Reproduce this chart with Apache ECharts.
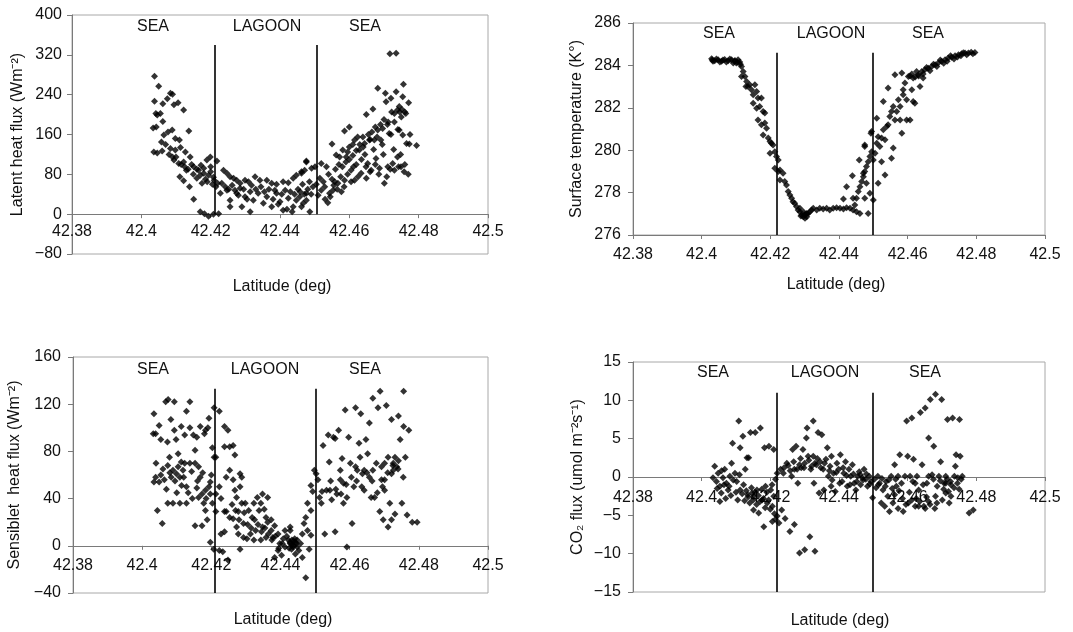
<!DOCTYPE html>
<html><head><meta charset="utf-8">
<script src="https://cdn.jsdelivr.net/npm/echarts@6/dist/echarts.min.js"></script>
<style>html,body{margin:0;padding:0;background:#fff}#c{width:1073px;height:632px}</style>
</head><body><div id="c"></div>
<script>
// ---------- DATA ----------
const latTicks = [42.38, 42.4, 42.42, 42.44, 42.46, 42.48, 42.5];
const regionLabels = ['SEA', 'LAGOON', 'SEA'];
const xTitle = 'Latitude (deg)';
const yTitles = ['Latent heat flux (Wm\u207B\u00B2)', 'Surface temperature (K\u00B0)', 'Sensiblet  heat flux (Wm\u207B\u00B2)', 'CO\u2082 flux (umol m\u207B\u00B2s\u207B\u00B9)'];

// boundaries between sea and lagoon (latitude), with vertical extent [top, bottom] in data units
const latentBounds = [42.4212, 42.4505];
const latentBoundY = [340, 0];
const tempBounds = [42.4220, 42.4498];
const tempBoundY = [284.6, 276];
const sensibleBounds = [42.4210, 42.4503];
const sensibleBoundY = [133, -40];
const co2Bounds = [42.4218, 42.4497];
const co2BoundY = [11, -15];

const latentHeat = [
[42.4038,277],[42.4050,257],[42.4038,227],[42.4062,222],[42.4075,232],[42.4084,243],[42.4090,241],[42.4094,220],[42.4106,224],[42.4122,209],
[42.4042,202],[42.4046,199],[42.4055,202],[42.4034,173],[42.4043,175],[42.4062,186],[42.4065,159],[42.4077,165],[42.4089,169],[42.4098,152],[42.4110,149],[42.4137,167],
[42.4036,125],[42.4046,123],[42.4060,127],[42.4084,132],[42.4098,129],[42.4113,134],[42.4127,125],[42.4141,115],[42.4094,109],[42.4108,102],[42.4122,105],
[42.4151,95],[42.4165,88],[42.4180,82],[42.4194,78],[42.4208,74],[42.4111,75],[42.4122,67],[42.4139,55],[42.4151,30],
[42.4170,5],[42.4182,1],[42.4194,-4],[42.4208,0],[42.4223,1],[42.4189,109],[42.4199,115],[42.4218,107],
[42.4160,90],[42.4172,98],[42.4185,70],[42.4200,85],[42.4205,60],[42.4215,55],[42.4175,62],[42.4160,72],[42.4130,88],[42.4145,100],[42.4200,95],
[42.4100,115],[42.4115,100],[42.4125,95],[42.4135,90],[42.4150,80],[42.4170,78],[42.4180,92],[42.4190,65],[42.4210,68],[42.4220,62],[42.4070,140],[42.4080,120],[42.4058,145],[42.4090,115],
[42.4237,88],[42.4247,82],[42.4256,75],[42.4266,72],[42.4275,68],[42.4285,62],[42.4299,68],[42.4309,65],[42.4328,75],[42.4342,68],[42.4362,68],[42.4376,62],[42.4390,60],[42.4409,65],[42.4424,63],[42.4438,72],[42.4447,78],[42.4462,85],[42.4471,88],[42.4476,105],
[42.4228,42],[42.4247,48],[42.4256,28],[42.4275,42],[42.4285,52],[42.4299,35],[42.4314,45],[42.4323,28],[42.4337,42],[42.4352,22],[42.4362,35],[42.4376,15],[42.4390,42],[42.4400,25],[42.4409,8],[42.4424,32],[42.4438,15],[42.4447,28],[42.4462,15],[42.4476,28],[42.4256,15],[42.4314,5],[42.4290,15],
[42.4232,62],[42.4242,55],[42.4252,50],[42.4262,58],[42.4270,48],[42.4280,38],[42.4295,50],[42.4305,30],[42.4318,58],[42.4330,50],[42.4345,55],[42.4355,45],[42.4368,50],[42.4380,30],[42.4385,48],[42.4395,20],[42.4405,40],[42.4415,48],[42.4420,10],[42.4430,45],[42.4435,5],[42.4442,40],[42.4452,50],[42.4458,45],[42.4465,60],[42.4470,40],[42.4480,50],[42.4485,65],[42.4490,40],[42.4495,55],
[42.4457,35],[42.4467,22],[42.4476,42],[42.4486,5],[42.4462,82],[42.4476,107],[42.4491,92],[42.4501,95],[42.4510,38],[42.4519,48],[42.4529,55],[42.4519,102],[42.4534,95],[42.4538,23],[42.4543,42],[42.4553,48],
[42.4550,141],[42.4562,119],[42.4558,65],[42.4567,62],[42.4577,45],[42.4572,115],[42.4581,129],[42.4586,68],[42.4586,167],[42.4600,175],[42.4591,115],[42.4600,135],[42.4605,88],[42.4615,68],[42.4615,149],[42.4624,155],
[42.4629,129],[42.4634,82],[42.4639,155],[42.4644,142],[42.4649,72],[42.4649,200],[42.4658,149],[42.4653,102],[42.4663,88],[42.4668,211],[42.4672,149],[42.4677,112],[42.4682,253],[42.4682,169],[42.4687,92],[42.4691,149],
[42.4696,172],[42.4701,62],[42.4704,243],[42.4706,226],[42.4711,95],[42.4715,162],[42.4717,322],[42.4720,233],[42.4725,102],[42.4730,202],[42.4730,88],[42.4735,323],[42.4735,246],[42.4739,209],[42.4739,115],[42.4744,169],
[42.4744,216],[42.4749,95],[42.4754,159],[42.4756,261],[42.4758,85],[42.4763,202],[42.4765,142],[42.4771,224],[42.4773,141],[42.4794,138],[42.4754,236],
[42.4595,125],[42.4610,140],[42.4620,128],[42.4640,135],[42.4655,160],[42.4665,165],[42.4675,175],[42.4690,180],[42.4700,190],[42.4712,185],[42.4722,205],[42.4745,205],[42.4752,210],[42.4760,205],
[42.4505,60],[42.4515,72],[42.4525,65],[42.4540,80],[42.4550,70],[42.4560,90],[42.4570,100],[42.4580,95],[42.4590,105],[42.4600,110],[42.4610,118],[42.4620,100],[42.4630,140],[42.4645,120],[42.4660,150],[42.4670,130],
[42.4680,155],[42.4695,140],[42.4710,180],[42.4720,160],[42.4730,185],[42.4740,170],[42.4750,195],
[42.4530,30],[42.4545,35],[42.4555,58],[42.4565,50],[42.4575,75],[42.4585,55],[42.4595,80],[42.4605,65],[42.4612,95],[42.4625,75],[42.4635,110],[42.4648,95],
[42.4660,85],[42.4675,100],[42.4685,80],[42.4698,120],[42.4708,75],[42.4718,90],[42.4728,130],[42.4742,95],[42.4748,120],[42.4760,100],[42.4770,80],[42.4775,160]
];

const surfaceTemp = [
[42.4029,284.31],[42.4038,284.22],[42.4048,284.27],[42.4058,284.19],[42.4067,284.28],[42.4077,284.22],[42.4087,284.27],[42.4096,284.19],[42.4106,284.27],[42.4111,284.16],
[42.4033,284.19],[42.4053,284.16],[42.4072,284.16],[42.4092,284.11],[42.4101,284.11],[42.4031,284.25],[42.4043,284.30],[42.4062,284.25],[42.4082,284.30],[42.4097,284.23],[42.4104,284.15],[42.4113,284.05],
[42.4116,283.95],[42.4121,283.71],[42.4126,283.48],[42.4116,283.48],[42.4131,283.24],[42.4135,283.00],[42.4129,283.00],[42.4140,283.09],[42.4145,282.85],[42.4150,282.61],[42.4155,283.09],[42.4160,282.77],
[42.4150,282.22],[42.4164,282.46],[42.4169,282.06],[42.4174,282.46],[42.4160,281.98],[42.4179,281.82],[42.4184,281.75],[42.4164,281.43],[42.4174,281.20],[42.4184,281.28],[42.4189,281.04],[42.4179,280.72],
[42.4194,280.57],[42.4199,280.41],[42.4203,280.33],[42.4208,280.25],[42.4199,279.86],[42.4213,279.93],[42.4218,279.70],[42.4223,279.54],[42.4213,279.15],[42.4223,278.99],[42.4228,279.07],[42.4237,278.91],
[42.4228,278.60],[42.4242,278.52],[42.4247,278.36],[42.4252,278.05],[42.4257,277.89],[42.4262,277.73],[42.4266,277.57],[42.4271,277.50],[42.4276,277.34],[42.4281,277.18],[42.4286,277.10],[42.4291,276.94],
[42.4296,276.86],[42.4301,276.79],[42.4306,276.86],[42.4310,277.02],[42.4315,277.10],[42.4320,277.18],[42.4286,277.26],[42.4296,277.10],[42.4306,277.02],[42.4289,276.90],[42.4299,276.95],[42.4304,276.98],
[42.4325,277.26],[42.4335,277.18],[42.4344,277.26],[42.4354,277.23],[42.4364,277.26],[42.4373,277.18],[42.4383,277.26],[42.4393,277.29],[42.4403,277.26],[42.4413,277.23],[42.4422,277.29],[42.4432,277.26],
[42.4441,277.18],[42.4451,277.10],[42.4461,277.02],[42.4413,277.70],[42.4441,277.73],[42.4446,277.42],[42.4451,277.73],[42.4456,278.05],[42.4461,278.28],[42.4466,278.52],[42.4471,278.75],[42.4475,278.99],
[42.4480,279.23],[42.4485,279.46],[42.4490,279.70],[42.4495,279.93],[42.4439,278.80],[42.4422,278.28],[42.4459,279.54],[42.4475,280.25],[42.4493,280.80],[42.4485,277.02],[42.4475,277.73],[42.4500,277.65],
[42.4510,281.51],[42.4475,280.17],[42.4495,280.88],[42.4471,278.91],[42.4480,278.44],[42.4490,277.97],[42.4500,279.54],[42.4505,279.86],[42.4510,280.33],[42.4514,280.64],[42.4519,280.17],[42.4524,280.57],
[42.4529,280.96],[42.4534,280.49],[42.4514,278.44],[42.4524,279.46],[42.4534,278.83],[42.4529,282.30],[42.4539,281.12],[42.4543,281.20],[42.4543,282.93],[42.4548,281.59],[42.4553,281.82],[42.4558,280.10],
[42.4553,279.62],[42.4558,282.06],[42.4563,281.43],[42.4563,283.56],[42.4568,281.82],[42.4573,282.38],[42.4578,281.43],[42.4578,282.06],[42.4583,280.80],[42.4583,283.64],[42.4587,282.85],[42.4587,282.61],
[42.4592,283.17],[42.4597,281.43],[42.4597,282.38],[42.4602,283.48],[42.4607,281.43],[42.4612,282.85],[42.4616,282.30],[42.4621,282.22],[42.4616,283.40],[42.4631,283.56],[42.4636,283.00],[42.4626,283.71],
[42.4607,283.50],[42.4612,283.60],[42.4622,283.45],[42.4632,283.50],[42.4645,283.40],
[42.4641,283.71],[42.4650,283.79],[42.4660,283.87],[42.4670,283.95],[42.4680,284.03],[42.4689,284.11],[42.4699,284.19],[42.4709,284.27],[42.4718,284.35],[42.4728,284.39],[42.4738,284.46],[42.4748,284.50],
[42.4757,284.55],[42.4767,284.58],[42.4777,284.58],[42.4796,284.61],[42.4645,283.60],[42.4655,283.90],[42.4665,283.75],[42.4675,284.05],[42.4685,283.95],[42.4695,284.25],[42.4705,284.10],[42.4715,284.20],
[42.4725,284.45],[42.4735,284.30],[42.4745,284.40],[42.4755,284.45],[42.4762,284.60],[42.4772,284.50],[42.4785,284.62],[42.4790,284.55]
];

const sensibleHeat = [
[42.4034,112],[42.4032,95],[42.4039,95],[42.4049,102],[42.4054,90],[42.4068,122],[42.4075,124],[42.4093,122],[42.4083,107],[42.4073,88],[42.4098,90],[42.4113,101],[42.4128,114],[42.4138,122],[42.4123,94],[42.4138,100],
[42.4148,94],[42.4158,92],[42.4168,101],[42.4183,98],[42.4193,108],[42.4180,95],[42.4039,58],[42.4034,54],[42.4049,54],[42.4054,60],[42.4064,56],[42.4074,68],[42.4079,75],[42.4084,58],[42.4089,64],[42.4099,61],
[42.4104,67],[42.4109,58],[42.4114,51],[42.4118,64],[42.4128,50],[42.4123,70],[42.4138,70],[42.4143,63],[42.4153,70],[42.4158,49],[42.4153,81],[42.4163,67],[42.4168,58],[42.4163,41],[42.4173,44],[42.4183,47],
[42.4193,50],[42.4197,44],[42.4178,36],[42.4183,30],[42.4188,22],[42.4173,17],[42.4153,17],[42.4128,36],[42.4109,36],[42.4089,36],[42.4044,30],[42.4058,19],[42.4074,36],[42.4104,78],[42.4113,71],[42.4093,98],
[42.4040,70],[42.4060,65],[42.4070,48],[42.4080,62],[42.4095,55],[42.4100,45],[42.4120,58],[42.4133,45],[42.4145,40],[42.4160,55],[42.4175,62],[42.4185,40],[42.4190,100],[42.4200,60],
[42.4208,117],[42.4223,114],[42.4203,83],[42.4208,75],[42.4213,75],[42.4197,54],[42.4213,44],[42.4203,36],[42.4213,29],[42.4197,3],[42.4207,-3],[42.4223,-4],[42.4233,-5],[42.4248,-12],[42.4228,10],[42.4238,12],
[42.4238,101],[42.4248,98],[42.4238,84],[42.4253,84],[42.4263,85],[42.4268,77],[42.4243,58],[42.4253,64],[42.4263,56],[42.4223,50],[42.4228,40],[42.4238,29],[42.4243,29],[42.4253,24],[42.4268,47],[42.4273,41],
[42.4283,61],[42.4288,58],[42.4283,50],[42.4288,36],[42.4278,29],[42.4263,23],[42.4273,16],[42.4293,19],[42.4278,10],[42.4293,7],[42.4303,6],[42.4283,-3],[42.4298,36],[42.4308,30],[42.4318,24],[42.4323,36],
[42.4333,41],[42.4338,30],[42.4343,36],[42.4353,31],[42.4358,24],[42.4363,20],[42.4348,16],[42.4328,13],[42.4313,10],[42.4323,5],[42.4343,5],[42.4358,7],[42.4373,13],[42.4383,17],[42.4378,7],[42.4393,10],
[42.4260,35],[42.4270,30],[42.4280,22],[42.4295,28],[42.4305,18],[42.4315,15],[42.4325,22],[42.4335,18],[42.4345,12],[42.4355,15],[42.4365,10],[42.4375,5],[42.4385,8],[42.4395,-2],[42.4405,2],[42.4418,8],[42.4432,-3],
[42.4398,2],[42.4408,6],[42.4413,-1],[42.4423,5],[42.4428,2],[42.4433,5],[42.4438,0],[42.4443,3],[42.4448,-1],[42.4453,-4],[42.4458,2],[42.4463,10],[42.4468,19],[42.4473,24],[42.4478,36],[42.4488,51],
[42.4493,46],[42.4498,64],[42.4503,61],[42.4443,-7],[42.4463,-10],[42.4473,-27],[42.4483,-3],[42.4488,9],[42.4478,13],[42.4488,30],[42.4393,-4],[42.4383,-10],[42.4403,-8],[42.4413,13],[42.4428,13],[42.4373,22],
[42.4363,41],[42.4348,44],[42.4428,16],[42.4428,3],[42.4433,1],[42.4438,4],[42.4446,2],[42.4448,5],[42.4436,-1],[42.4441,6],[42.4425,-2],
[42.4508,56],[42.4513,41],[42.4518,36],[42.4523,85],[42.4528,10],[42.4538,94],[42.4541,71],[42.4543,47],[42.4548,39],[42.4553,92],[42.4558,91],[42.4558,12],[42.4563,44],[42.4568,98],[42.4573,56],[42.4578,74],
[42.4582,53],[42.4587,115],[42.4592,41],[42.4592,-1],[42.4597,92],[42.4602,70],[42.4607,19],[42.4612,50],[42.4617,117],[42.4622,64],[42.4627,87],[42.4632,112],[42.4637,61],[42.4642,47],[42.4647,90],[42.4652,78],
[42.4657,104],[42.4662,41],[42.4667,64],[42.4672,41],[42.4677,70],[42.4682,117],[42.4687,29],[42.4692,56],[42.4697,22],[42.4701,47],[42.4706,119],[42.4711,75],[42.4716,36],[42.4721,107],[42.4726,64],[42.4731,27],
[42.4736,67],[42.4741,110],[42.4746,90],[42.4751,36],[42.4756,131],[42.4756,101],[42.4761,75],[42.4766,26],[42.4771,98],[42.4781,20],[42.4795,20],[42.4688,131],[42.4667,125],[42.4701,56],[42.4642,64],[42.4692,67],
[42.4721,61],[42.4741,72],[42.4573,64],[42.4533,47],[42.4582,36],[42.4617,67],[42.4630,75],[42.4657,58],[42.4701,70],[42.4726,70],[42.4731,75],[42.4711,16],[42.4721,22],
[42.4520,46],[42.4545,55],[42.4560,48],[42.4575,44],[42.4590,52],[42.4605,58],[42.4620,55],[42.4635,50],[42.4650,62],[42.4665,55],[42.4680,45],[42.4695,50],[42.4710,62],[42.4725,68],[42.4740,65],[42.4755,58]
];

const co2Flux = [
[42.4038,1.4],[42.4033,-0.1],[42.4043,-0.6],[42.4048,0.5],[42.4053,-1.2],[42.4057,-2.1],[42.4062,-0.1],[42.4067,1.0],[42.4072,-0.8],[42.4053,-3.2],[42.4077,-1.7],[42.4082,0.1],[42.4087,1.8],[42.4090,4.4],
[42.4097,0.5],[42.4102,-0.6],[42.4108,7.3],[42.4112,3.8],[42.4112,-1.7],[42.4120,5.3],[42.4122,-1.0],[42.4127,1.0],[42.4132,2.5],[42.4137,2.5],[42.4134,-2.3],[42.4142,5.8],[42.4147,-2.1],[42.4151,-2.5],
[42.4151,-4.3],[42.4156,5.8],[42.4161,-1.7],[42.4166,-4.7],[42.4171,6.4],[42.4176,-3.0],[42.4181,-6.5],[42.4183,3.8],[42.4186,-1.2],[42.4191,-3.4],[42.4196,4.0],[42.4201,-1.7],[42.4206,-5.8],[42.4206,-3.8],
[42.4210,3.6],[42.4210,-2.5],[42.4215,-0.3],[42.4220,-5.1],[42.4220,0.5],[42.4225,-6.0],[42.4230,1.0],[42.4233,-4.3],[42.4238,0.5],[42.4243,-5.4],[42.4248,1.8],[42.4257,-7.1],[42.4262,0.1],[42.4265,3.6],
[42.4045,-1.5],[42.4058,0.8],[42.4065,-1.0],[42.4070,-2.8],[42.4080,-1.2],[42.4085,-2.4],[42.4092,-0.4],[42.4100,-2.0],[42.4105,-3.0],[42.4110,0.3],[42.4118,-2.2],[42.4125,-3.1],[42.4130,-1.8],[42.4135,-2.6],
[42.4140,-3.4],[42.4145,-1.4],[42.4150,-3.0],[42.4155,-2.0],[42.4160,-3.6],[42.4165,-2.4],[42.4170,-3.2],[42.4175,-1.6],[42.4180,-2.8],[42.4185,-4.0],[42.4190,-2.0],[42.4195,-3.0],[42.4200,-4.2],[42.4205,-1.0],
[42.4212,-4.8],[42.4215,-5.5],
[42.4270,-6.2],[42.4270,1.0],[42.4275,4.0],[42.4280,-0.8],[42.4285,1.6],[42.4285,-9.9],[42.4290,1.2],[42.4295,3.6],[42.4300,-9.5],[42.4300,1.8],[42.4305,5.1],[42.4307,6.4],[42.4310,2.7],[42.4315,-7.8],
[42.4320,1.4],[42.4325,7.3],[42.4325,2.7],[42.4327,-0.8],[42.4330,-9.7],[42.4334,1.6],[42.4339,5.8],[42.4342,-2.1],[42.4345,2.0],[42.4350,5.5],[42.4354,1.0],[42.4356,-1.7],[42.4362,2.3],[42.4366,3.8],
[42.4369,0.1],[42.4374,1.4],[42.4377,-1.2],[42.4378,2.7],[42.4384,0.5],[42.4389,-1.9],[42.4394,1.8],[42.4399,1.0],[42.4404,2.9],[42.4409,-0.6],[42.4414,0.5],[42.4419,2.0],[42.4424,-1.2],[42.4429,1.0],
[42.4434,0.1],[42.4439,1.6],[42.4444,-0.8],[42.4449,-1.7],[42.4454,0.1],[42.4459,0.7],[42.4463,-1.0],[42.4468,-0.1],[42.4473,1.0],[42.4478,-0.3],[42.4483,-1.2],[42.4488,0.1],[42.4493,-0.6],
[42.4240,1.2],[42.4252,1.5],[42.4258,0.8],[42.4268,2.0],[42.4278,1.0],[42.4288,2.4],[42.4298,1.2],[42.4312,2.2],[42.4318,1.0],[42.4330,1.8],[42.4337,2.4],[42.4347,1.2],[42.4358,1.8],[42.4372,0.8],
[42.4380,-0.4],[42.4392,0.6],[42.4402,-0.8],[42.4412,1.2],[42.4422,0.2],[42.4432,-1.0],[42.4442,0.4],[42.4452,-0.6],[42.4462,0.3],[42.4470,-0.4],[42.4480,0.4],[42.4490,-0.9],
[42.4498,-2.7],[42.4503,-0.3],[42.4508,-1.4],[42.4513,0.1],[42.4518,-0.8],[42.4523,-3.4],[42.4528,-1.7],[42.4533,-3.8],[42.4537,-0.6],[42.4542,-2.5],[42.4547,-4.5],[42.4552,0.1],[42.4557,-3.4],[42.4562,1.6],
[42.4567,-1.2],[42.4572,-4.1],[42.4577,2.9],[42.4582,-0.8],[42.4587,-4.5],[42.4592,0.1],[42.4597,7.3],[42.4600,2.7],[42.4602,-3.4],[42.4607,0.1],[42.4612,7.7],[42.4617,2.3],[42.4622,-3.8],[42.4627,0.1],
[42.4632,-1.7],[42.4637,8.4],[42.4642,1.6],[42.4647,-3.8],[42.4651,9.0],[42.4656,-0.8],[42.4661,5.1],[42.4666,10.1],[42.4671,0.3],[42.4676,4.0],[42.4679,-4.1],[42.4681,10.8],[42.4686,-1.2],[42.4691,0.1],
[42.4696,2.0],[42.4699,10.1],[42.4701,-3.0],[42.4706,-0.8],[42.4711,0.1],[42.4716,7.5],[42.4719,-1.9],[42.4721,-3.4],[42.4726,-1.0],[42.4731,7.7],[42.4736,0.1],[42.4739,1.4],[42.4741,2.9],[42.4746,-0.1],
[42.4751,7.5],[42.4753,2.7],[42.4756,-0.3],[42.4759,0.1],[42.4779,-4.7],[42.4791,-4.3],[42.4562,-2.3],[42.4612,-3.0],[42.4632,-3.8],[42.4651,-4.1],[42.4661,-3.2],[42.4681,-2.5],[42.4711,-2.1],[42.4726,-2.5],
[42.4572,0.1],[42.4622,-0.8],[42.4661,0.1],[42.4711,-0.8],
[42.4515,-1.0],[42.4525,-0.2],[42.4535,-1.2],[42.4545,-0.4],[42.4555,-1.5],[42.4565,-0.3],[42.4575,-1.8],[42.4585,-2.8],[42.4595,-3.6],[42.4605,-2.0],[42.4615,-0.6],[42.4625,-2.8],[42.4635,-3.2],[42.4645,-1.0],
[42.4655,-2.6],[42.4665,-3.6],[42.4675,-0.3],[42.4685,-3.4],[42.4695,-0.5],[42.4705,-1.6],[42.4715,-0.3],[42.4725,-0.6],[42.4735,-1.4],[42.4745,-0.8],[42.4750,-1.6]
];

// ---------- CHART ----------
const FONT = '"Liberation Sans", Arial, Helvetica, sans-serif';
const TXT = '#111';
const AXC = '#7a7a7a';
const minus = v => String(v).replace('-', '\u2212');
const latFmt = v => String(parseFloat(Number(v).toFixed(2)));

const panels = [
  {grid:{left:72, top:15, width:416, height:239}, y:{min:-80,max:400,interval:80}, xMargin:9, yMargin:10, nameGap:46,
   data:latentHeat, bounds:latentBounds, boundY:latentBoundY, labels:[[153,27],[267,27],[365,27]], xName:[282,287]},
  {grid:{left:633, top:23, width:412, height:212}, y:{min:276,max:286,interval:2}, xMargin:12, yMargin:12, nameGap:48,
   data:surfaceTemp, bounds:tempBounds, boundY:tempBoundY, labels:[[719,34],[831,34],[928,34]], xName:[836,285]},
  {grid:{left:73, top:357, width:415, height:236}, y:{min:-40,max:160,interval:40}, xMargin:12, yMargin:12, nameGap:50,
   data:sensibleHeat, bounds:sensibleBounds, boundY:sensibleBoundY, labels:[[153,370],[265,370],[365,370]], xName:[283,620]},
  {grid:{left:633, top:362, width:412, height:230}, y:{min:-15,max:15,interval:5}, xMargin:13, yMargin:12, nameGap:47,
   data:co2Flux, bounds:co2Bounds, boundY:co2BoundY, labels:[[713,373],[825,373],[925,373]], xName:[840,621]}
];

const option = {
  animation:false,
  backgroundColor:'#fff',
  grid:[], xAxis:[], yAxis:[], series:[], graphic:[]
};

panels.forEach((p, i) => {
  option.grid.push(Object.assign({show:true, borderColor:'#a8a8a8', borderWidth:1, backgroundColor:'transparent', containLabel:false}, p.grid));
  // x axis crosses the y axis at value 0 (when 0 is inside the range): shift it up from the grid bottom
  const zeroOffset = (p.y.min < 0 && p.y.max > 0) ? -p.grid.height * (0 - p.y.min) / (p.y.max - p.y.min) : 0;
  option.xAxis.push({
    type:'value', gridIndex:i, min:latTicks[0], max:latTicks[latTicks.length-1], interval:0.02,
    position:'bottom', offset:zeroOffset,
    axisLine:{show:true, onZero:false, lineStyle:{color:AXC, width:1}},
    axisTick:{show:true, length:4, lineStyle:{color:AXC}},
    axisLabel:{margin:p.xMargin, color:TXT, fontSize:16, fontFamily:FONT, formatter:latFmt},
    splitLine:{show:false}
  });
  option.yAxis.push({
    type:'value', gridIndex:i, min:p.y.min, max:p.y.max, interval:p.y.interval,
    name:yTitles[i], nameLocation:'middle', nameGap:p.nameGap,
    nameTextStyle:{fontSize:16, color:TXT, fontFamily:FONT},
    axisLine:{show:true, onZero:false, lineStyle:{color:AXC, width:1}},
    axisTick:{show:true, length:5, lineStyle:{color:AXC}},
    axisLabel:{margin:p.yMargin, color:TXT, fontSize:16, fontFamily:FONT, formatter:minus},
    splitLine:{show:false}
  });
  option.series.push({
    type:'scatter', xAxisIndex:i, yAxisIndex:i, data:p.data,
    symbol:'diamond', symbolSize:7, itemStyle:{color:'#000'},
    markLine:{
      silent:true, symbol:['none','none'], label:{show:false},
      lineStyle:{color:'#000', width:1.6, type:'solid'},
      data:p.bounds.map(b => [{coord:[b, p.boundY[0]]},{coord:[b, p.boundY[1]]}])
    }
  });
  p.labels.forEach((pos, k) => {
    option.graphic.push({type:'text', x:pos[0], y:pos[1], silent:true,
      style:{text:regionLabels[k], fill:TXT, font:'16px ' + FONT, align:'center', verticalAlign:'middle'}});
  });
  option.graphic.push({type:'text', x:p.xName[0], y:p.xName[1], silent:true,
    style:{text:xTitle, fill:TXT, font:'16px ' + FONT, align:'center', verticalAlign:'middle'}});
});

const chart = echarts.init(document.getElementById('c'), null, {renderer:'canvas'});
chart.setOption(option);
</script>
</body></html>
